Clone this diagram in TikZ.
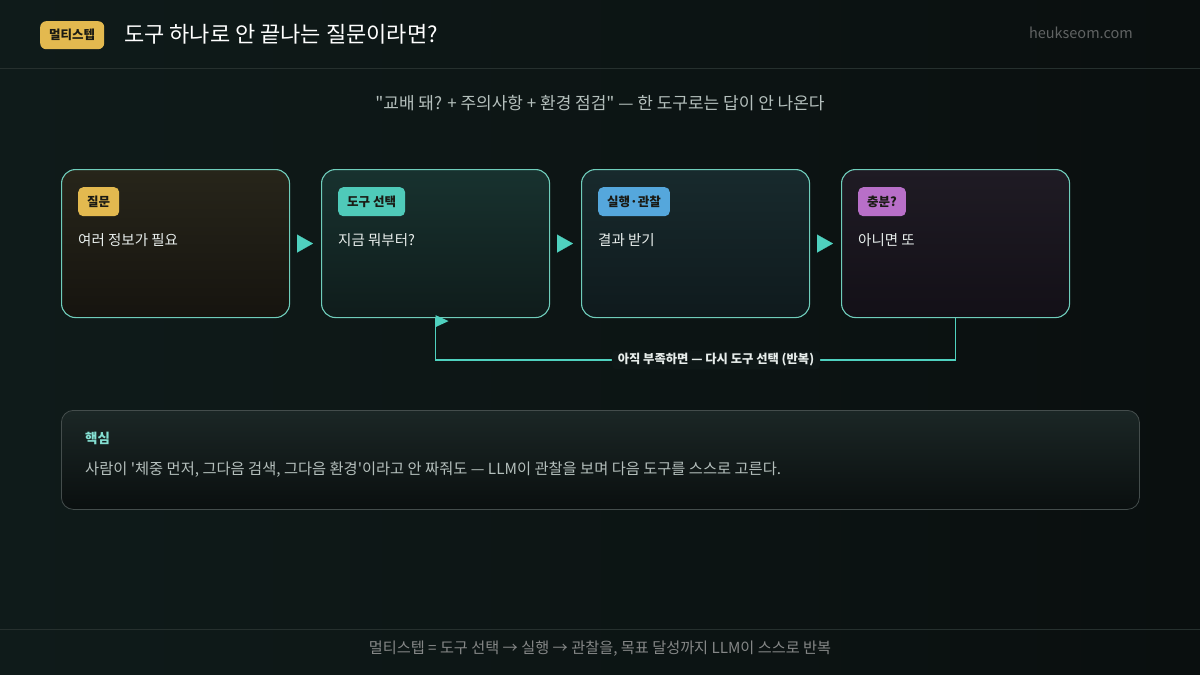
\documentclass[tikz,border=0pt]{standalone}
\usepackage{fontspec}
\setmainfont{Noto Sans CJK KR}
\newfontfamily\rawkr{Noto Sans CJK KR}
\usetikzlibrary{arrows.meta,positioning,calc}
\definecolor{bgl}{HTML}{0F1B1A}
\definecolor{bgr}{HTML}{0A0F0F}
\definecolor{rulec}{HTML}{26302E}
\definecolor{gold}{HTML}{E3B94F}
\definecolor{tealc}{HTML}{4FCAB9}
\definecolor{bluec}{HTML}{55A7DC}
\definecolor{purp}{HTML}{B86FC8}
\definecolor{arrc}{HTML}{4FD1BF}
\definecolor{edgec}{HTML}{6FCDBB}
\definecolor{inkd}{HTML}{1A1A14}
\definecolor{txtw}{HTML}{E8EEEC}
\definecolor{txtg}{HTML}{B4BFBC}
\tikzset{
  stepbox/.style={draw=edgec, line width=1.1pt, rounded corners=14pt, minimum width=228pt, minimum height=148pt, inner sep=0pt},
  tag/.style={rounded corners=5pt, font=\fontsize{12.5}{14}\selectfont\bfseries, text=inkd, minimum height=29pt, inner xsep=9pt, inner ysep=0pt, anchor=north west},
  body/.style={font=\fontsize{14.5}{17}\selectfont, text=txtw, anchor=west, inner sep=0pt},
  flow/.style={-{Triangle[length=16pt,width=18pt]}, draw=arrc, fill=arrc, line width=0.1pt, shorten <=8pt, shorten >=8pt},
  loopline/.style={draw=arrc, line width=1.6pt},
}
\begin{document}
\begin{tikzpicture}[x=1pt,y=-1pt]
\shade[left color=bgl, right color=bgr] (0,0) rectangle (1200,675);
\useasboundingbox (0,0) rectangle (1200,675);
% header
\node[tag, fill=gold, rounded corners=6pt, minimum height=28pt] (hb) at (40,21) {멀티스텝};
\node[font=\fontsize{22}{25}\selectfont, text=white, anchor=west, inner sep=0pt] (title) at (124,34) {도구 하나로 안 끝나는 질문이라면?};
\node[font=\fontsize{14.5}{16}\selectfont, text=white!35!bgr, anchor=east, inner sep=0pt] (site) at (1133,33) {heukseom.com};
\draw[rulec] (0,68) -- (1200,68);
\node[font=\rawkr\fontsize{17}{20}\selectfont, text=txtg] (sub) at (600,103) {"교배 돼? + 주의사항 + 환경 점검" — 한 도구로는 답이 안 나온다};
% steps
\foreach \n/\x/\tc/\fa/\fb/\t/\b in {q/61/gold/27251A/16140F/질문/여러 정보가 필요, t/321/tealc/18322F/0F1C1B/도구 선택/지금 뭐부터?, e/581/bluec/182A2D/0F1A1D/실행·관찰/결과 받기, s/841/purp/1F1B24/131017/충분?/아니면 또} {
  \definecolor{fa}{HTML}{\fa}\definecolor{fb}{HTML}{\fb}
  \node[stepbox, top color=fa, bottom color=fb, anchor=north west] (\n) at (\x,169) {};
  \node[tag, fill=\tc] (\n tag) at ($(\n.north west)+(17,18)$) {\t};
  \node[body] (\n txt) at ($(\n.north west)+(17,71)$) {\b};
}
\draw[flow] (q.east) -- (t.west); \draw[flow] (t.east) -- (e.west); \draw[flow] (e.east) -- (s.west);
% loop back
\coordinate (lowrow) at (0,360);
\draw[loopline] (s.south) -- (s.south |- lowrow) -- (t.south |- lowrow) -- (t.south);
\fill[arrc] ($(t.south)+(0,-3)$) -- ++(13,6) -- ++(-13,6) -- cycle;
\node[fill=bgl!70!bgr, rounded corners=5pt, font=\fontsize{12.3}{14}\selectfont\bfseries, text=txtw, inner xsep=6pt, inner ysep=3pt] (looplbl) at (716,360) {아직 부족하면 — 다시 도구 선택 (반복)};
% key point
\node[draw=white!22!bgl, line width=0.8pt, rounded corners=12pt, top color=white!5!bgl, bottom color=bgr, minimum width=1078pt, minimum height=99pt, anchor=north west] (key) at (61,410) {};
\node[font=\fontsize{13.5}{16}\selectfont\bfseries, text=arrc!70!white, anchor=west, inner sep=0pt] (keyh) at ($(key.north west)+(24,28)$) {핵심};
\node[font=\rawkr\fontsize{15.3}{18}\selectfont, text=txtg, anchor=west, inner sep=0pt] (keyb) at ($(key.north west)+(24,60)$) {사람이 '체중 먼저, 그다음 검색, 그다음 환경'이라고 안 짜줘도 — LLM이 관찰을 보며 다음 도구를 스스로 고른다.};
% footer
\draw[rulec] (0,629) -- (1200,629);
\node[font=\fontsize{15.2}{18}\selectfont, text=white!50!bgr] (foot) at (600,649) {멀티스텝 = 도구 선택 → 실행 → 관찰을, 목표 달성까지 LLM이 스스로 반복};
\end{tikzpicture}
\end{document}
